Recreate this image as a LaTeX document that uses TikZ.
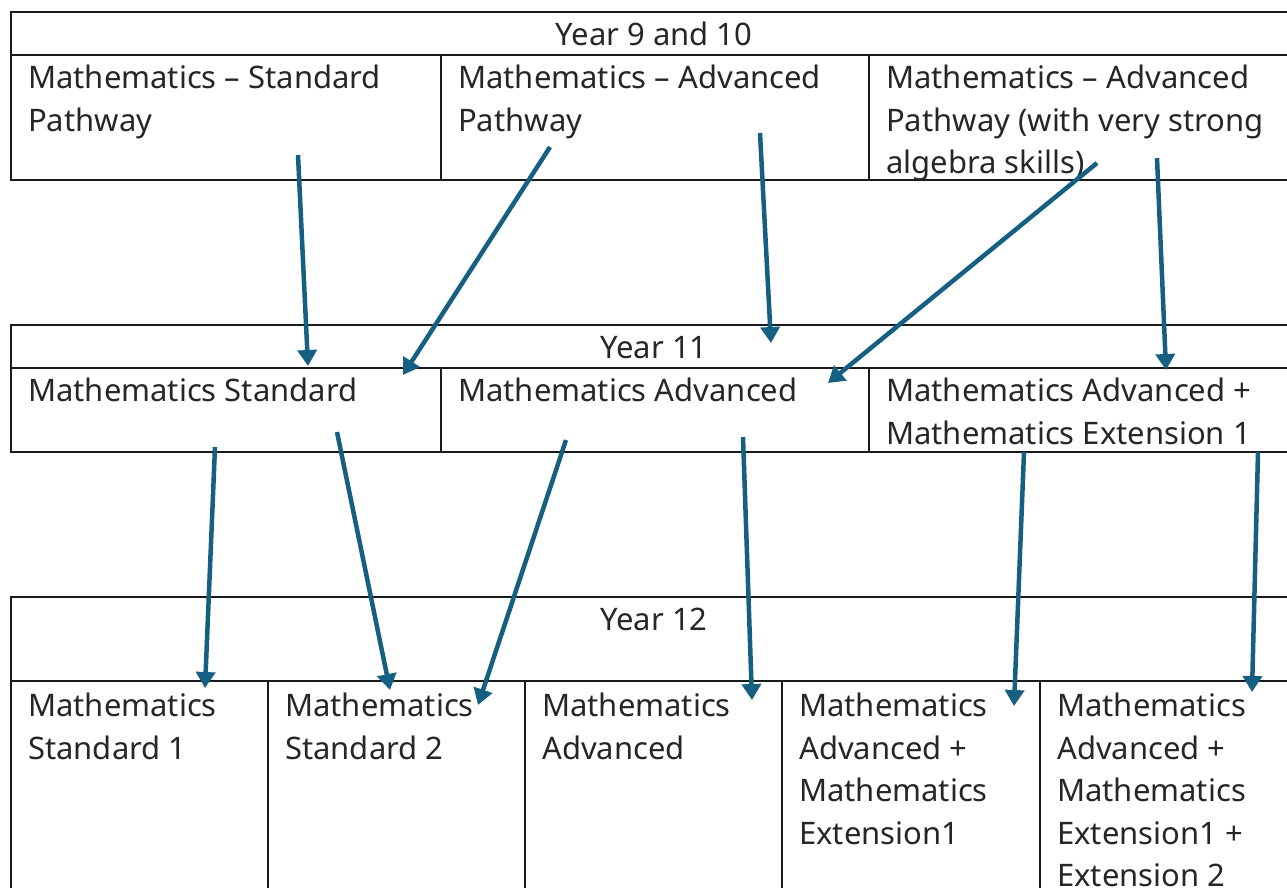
\documentclass[tikz,border=0pt]{standalone}
\usepackage{fontspec}
\setmainfont{Noto Sans}
\usetikzlibrary{arrows.meta}
\definecolor{accent}{HTML}{156082}
\definecolor{rule}{HTML}{1A1A1A}
\begin{document}
\begin{tikzpicture}[x=1pt,y=-1pt,
  cell/.style={anchor=north west,inner sep=0pt,align=left,font=\fontsize{31}{42.5}\selectfont,text=black!85},
  head/.style={anchor=base,inner sep=0pt,font=\fontsize{31}{42.5}\selectfont,text=black!85},
  grid/.style={draw=rule,line width=1.6pt},
  flow/.style={draw=accent,line width=4.5pt,-{Triangle[width=19pt,length=16pt]}}]
\useasboundingbox (0,0) rectangle (1287,887);
% table 1
\draw[grid] (1292,12) -- (11,12) -- (11,180) -- (1292,180);
\draw[grid] (11,55) -- (1292,55);
\draw[grid] (441,55) -- (441,180);
\draw[grid] (869,55) -- (869,180);
% table 2
\draw[grid] (1292,325) -- (11,325) -- (11,452) -- (1292,452);
\draw[grid] (11,368) -- (1292,368);
\draw[grid] (441,368) -- (441,452);
\draw[grid] (869,368) -- (869,452);
% table 3
\draw[grid] (1292,597) -- (11,597) -- (11,892);
\draw[grid] (11,681) -- (1292,681);
\foreach \x in {268,525,782,1040} \draw[grid] (\x,681) -- (\x,892);
% headers
\node[head] (h9) at (654,45) {Year 9 and 10};
\node[head] (h11) at (654,358) {Year 11};
\node[head] (h12) at (654,630) {Year 12};
% year 9/10 cells
\node[cell] (a1) at (28,65) {Mathematics – Standard\\Pathway};
\node[cell] (a2) at (458,65) {Mathematics – Advanced\\Pathway};
\node[cell] (a3) at (886,65) {Mathematics – Advanced\\Pathway (with very strong\\algebra skills)};
% year 11 cells
\node[cell] (b1) at (28,378) {Mathematics Standard};
\node[cell] (b2) at (458,378) {Mathematics Advanced};
\node[cell] (b3) at (886,378) {Mathematics Advanced +\\Mathematics Extension 1};
% year 12 cells
\node[cell] (c1) at (28,693) {Mathematics\\Standard 1};
\node[cell] (c2) at (285,693) {Mathematics\\Standard 2};
\node[cell] (c3) at (542,693) {Mathematics\\Advanced};
\node[cell] (c4) at (799,693) {Mathematics\\Advanced +\\Mathematics\\Extension1};
\node[cell] (c5) at (1057,693) {Mathematics\\Advanced +\\Mathematics\\Extension1 +\\Extension 2};
% arrow end points
\coordinate (s1) at (298,155); \coordinate (e1) at (308,366);
\coordinate (s2) at (550,147); \coordinate (e2) at (403,375);
\coordinate (s3) at (760,133); \coordinate (e3) at (771,343);
\coordinate (s4) at (1097,163); \coordinate (e4) at (828,383);
\coordinate (s5) at (1157,158); \coordinate (e5) at (1166,370);
\coordinate (s6) at (215,447); \coordinate (e6) at (205,688);
\coordinate (s7) at (337,432); \coordinate (e7) at (390,690);
\coordinate (s8) at (566,440); \coordinate (e8) at (478,705);
\coordinate (s9) at (743,437); \coordinate (e9) at (752,700);
\coordinate (s10) at (1024,452); \coordinate (e10) at (1014,706);
\coordinate (s11) at (1258,452); \coordinate (e11) at (1252,692);
\foreach \i in {1,...,11} \draw[flow] (s\i) -- (e\i);
\end{tikzpicture}
\end{document}
